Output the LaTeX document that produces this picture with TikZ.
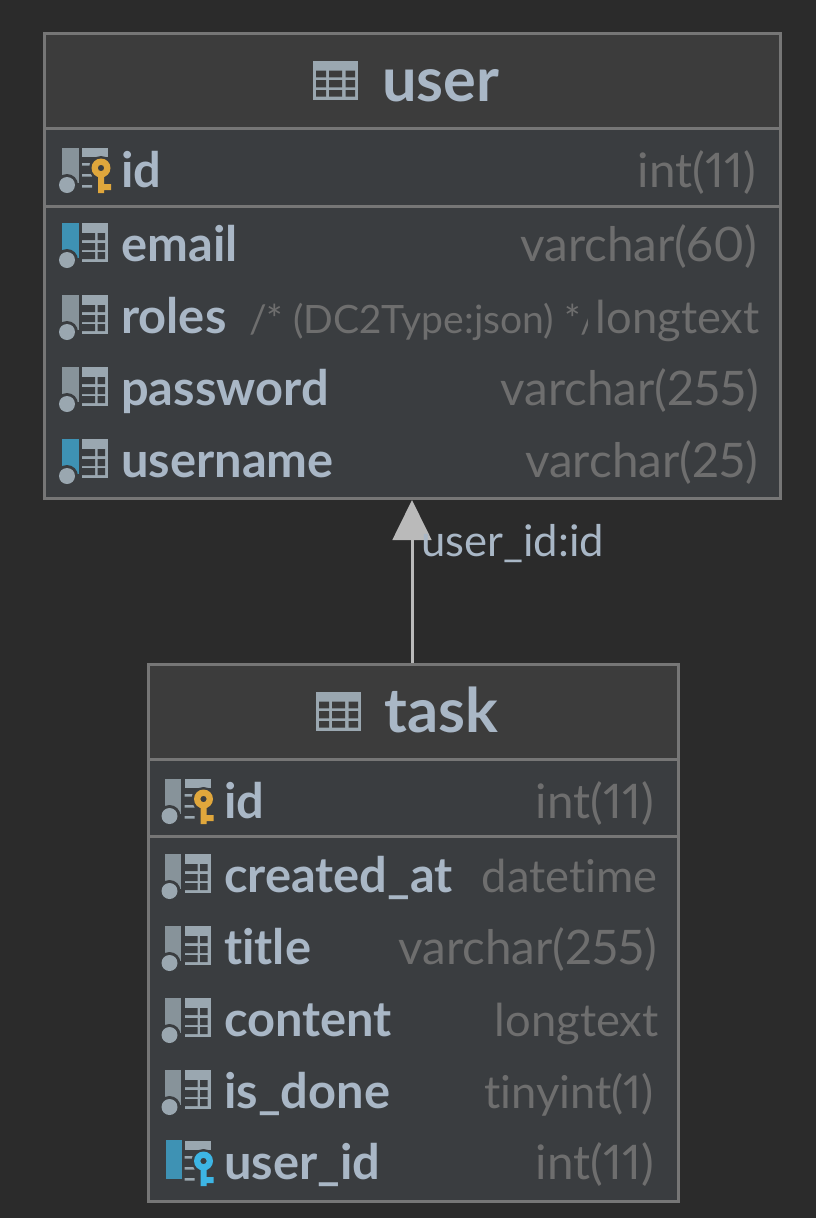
\documentclass[tikz,border=0pt]{standalone}
\usepackage{fontspec}
\setmainfont{Lato}[Ligatures=NoCommon,Numbers=Proportional]
\usetikzlibrary{arrows.meta}
\definecolor{pagebg}{HTML}{2B2B2B}
\definecolor{rowbg}{HTML}{3A3D40}
\definecolor{headbg}{HTML}{3C3C3C}
\definecolor{edgegray}{HTML}{767676}
\definecolor{labelblue}{HTML}{A9B7C6}
\definecolor{typegray}{HTML}{6E6E6E}
\definecolor{icongray}{HTML}{9AA7B0}
\definecolor{bargray}{HTML}{87939A}
\definecolor{barblue}{HTML}{3E92B4}
\definecolor{keygold}{HTML}{E0A73C}
\definecolor{keyblue}{HTML}{3DB5E4}
\tikzset{
  tablebox/.style={draw=edgegray,line width=2.25pt,fill=rowbg,anchor=north west,inner sep=0pt,outer sep=0pt},
  headbox/.style={tablebox,fill=headbg},
  titletext/.style={anchor=base west,inner sep=0pt,text=labelblue,font=\fontsize{46}{54}\selectfont\bfseries},
  colname/.style={anchor=base west,inner sep=0pt,text=labelblue,font=\fontsize{36.6}{44}\selectfont\bfseries},
  coltype/.style={anchor=base east,inner sep=0pt,text=typegray,font=\fontsize{35.7}{44}\selectfont},
  shorttype/.style={coltype,font=\fontsize{34}{44}\selectfont},
  colnote/.style={anchor=base west,inner sep=0pt,text=typegray,font=\fontsize{29.3}{36}\selectfont},
  edgetext/.style={anchor=base west,inner sep=0pt,text=labelblue,font=\fontsize{32.7}{40}\selectfont},
  fkline/.style={draw=white!73!black,line width=2.25pt,-{Triangle[length=30pt,width=29pt]}},
  % table symbol in a title bar, origin at its lower left corner, y runs upwards in a pic
  tablesign/.pic={
    \fill[icongray] (0,39) rectangle (45,0);
    \fill[headbg] (3,29.3) rectangle (13,22.7) (16,29.3) rectangle (29,22.7) (32.7,29.3) rectangle (42,22.7);
    \fill[headbg] (3,20) rectangle (13,12.7) (16,20) rectangle (29,12.7) (32.7,20) rectangle (42,12.7);
    \fill[headbg] (3,10) rectangle (13,3.3) (16,10) rectangle (29,3.3) (32.7,10) rectangle (42,3.3);
  },
  % column marks, origin at the left end of the baseline
  colbar/.pic={
    \fill[#1] (0,37) rectangle (16.5,2);
    \fill[rowbg] (5,0) circle (11);
    \fill[icongray] (5,0) circle (8);
  },
  colgrid/.pic={
    \fill[icongray] (20,37) rectangle (46,-2);
    \fill[rowbg] (20,27) rectangle (33,20) (35.5,27) rectangle (43,20);
    \fill[rowbg] (20,17) rectangle (33,10) (35.5,17) rectangle (43,10);
    \fill[rowbg] (20,8) rectangle (33,1) (35.5,8) rectangle (43,1);
  },
  colkey/.pic={
    \fill[icongray] (20,37) rectangle (46,28);
    \fill[icongray] (20,22) rectangle (31,19.5) (20,11) rectangle (30,8.5) (20,0) rectangle (30,-2.5);
    \fill[rowbg] (39,17) circle (12);
    \fill[#1] (36,10) rectangle (42,-8) (42,1) rectangle (49,-5);
    \fill[#1,even odd rule] (39,17) circle (9.5) (39,17) circle (3.2);
  },
}
\begin{document}
\begin{tikzpicture}[x=0.75pt,y=0.75pt,yscale=-1,xscale=1]

    \fill[pagebg] (0,0) rectangle (816,1218);

    % user table
    \node (user) [tablebox,minimum width=552pt,minimum height=348.75pt] at (44.5,33) {};
    \node (userHead) [headbox,minimum width=552pt,minimum height=71.25pt] at (44.5,33) {};
    \node (userKey) [tablebox,minimum width=552pt,minimum height=58.5pt] at (44.5,128) {};
    \pic at (313,100) {tablesign};
    \node (userTitle) [titletext] at (382,101) {user};

    \pic at (62,185) {colbar=bargray};
    \pic at (62,185) {colkey=keygold};
    \node (userId) [colname] at (121,187) {id};
    \node (userIdType) [coltype] at (756,187) {int(11)};

    \pic at (62,260) {colbar=barblue};
    \pic at (62,260) {colgrid};
    \node (userEmail) [colname] at (121,261) {email};
    \node (userEmailType) [coltype] at (757,261) {varchar(60)};

    \pic at (62,332) {colbar=bargray};
    \pic at (62,332) {colgrid};
    \node (userRoles) [colname] at (121,333) {roles};
    \begin{scope}
      \clip (240,295) rectangle (587,345);
      \node (userRolesNote) [colnote] at (249,333) {/* (DC2Type:json) */};
    \end{scope}
    \node (userRolesType) [shorttype] at (760,333) {longtext};

    \pic at (62,404) {colbar=bargray};
    \pic at (62,404) {colgrid};
    \node (userPassword) [colname] at (121,405) {password};
    \node (userPasswordType) [coltype] at (759,405) {varchar(255)};

    \pic at (62,476) {colbar=barblue};
    \pic at (62,476) {colgrid};
    \node (userName) [colname] at (121,477) {username};
    \node (userNameType) [coltype] at (758,477) {varchar(25)};

    % task table
    \node (task) [tablebox,minimum width=397.5pt,minimum height=402.75pt] at (148,664) {};
    \node (taskHead) [headbox,minimum width=397.5pt,minimum height=71.25pt] at (148,664) {};
    \node (taskKey) [tablebox,minimum width=397.5pt,minimum height=57.75pt] at (148,759) {};
    \pic at (316,731) {tablesign};
    \node (taskTitle) [titletext] at (384,732) {task};

    \pic at (164.5,816) {colbar=bargray};
    \pic at (164.5,816) {colkey=keygold};
    \node (taskId) [colname] at (224,818) {id};
    \node (taskIdType) [coltype] at (654,818) {int(11)};

    \pic at (164.5,891) {colbar=bargray};
    \pic at (164.5,891) {colgrid};
    \node (taskCreated) [colname] at (224,892) {created\_at};
    \node (taskCreatedType) [shorttype] at (658,892) {datetime};

    \pic at (164.5,963) {colbar=bargray};
    \pic at (164.5,963) {colgrid};
    \node (taskTitleCol) [colname] at (224,964) {title};
    \node (taskTitleType) [coltype] at (657,964) {varchar(255)};

    \pic at (164.5,1035) {colbar=bargray};
    \pic at (164.5,1035) {colgrid};
    \node (taskContent) [colname] at (224,1036) {content};
    \node (taskContentType) [shorttype] at (659,1036) {longtext};

    \pic at (164.5,1107) {colbar=bargray};
    \pic at (164.5,1107) {colgrid};
    \node (taskDone) [colname] at (224,1108) {is\_done};
    \node (taskDoneType) [shorttype] at (654,1108) {tinyint(1)};

    \pic at (164.5,1178) {colkey=keyblue};
    \fill[barblue] (165.5,1140) rectangle (182,1179);
    \node (taskUser) [colname] at (224,1179) {user\_id};
    \node (taskUserType) [coltype] at (654,1179) {int(11)};

    % foreign key
    \coordinate (fkEnd) at (412,500);
    \coordinate (fkStart) at (412,663);
    \draw[fkline] (fkStart) -- (fkEnd);
    \node (fkLabel) [edgetext] at (421,556) {user\_id:id};

\end{tikzpicture}
\end{document}
